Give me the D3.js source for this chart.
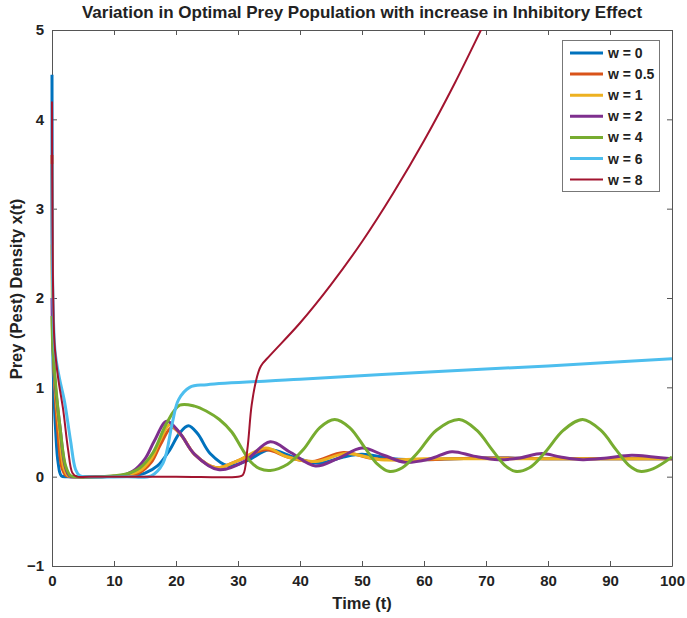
<!DOCTYPE html>
<html>
<head>
<meta charset="utf-8">
<script src="https://cdn.jsdelivr.net/npm/d3@7"></script>
<style>
  body { margin: 0; background: #fff; }
  text { font-family: "Liberation Sans", Arial, sans-serif; font-weight: bold; }
</style>
</head>
<body>
<div id="chart"></div>
<script>
// series: time points and prey density for each w
const tW0 = [0, 0.05, 0.2, 0.6, 1, 1.5, 2.5, 8, 13, 15, 17, 19, 20.5, 22, 23.5, 25.5, 28.5, 31.5, 35, 39, 43, 47, 50, 55, 60, 70, 80, 90, 100];
const xW0 = [4.5, 2.5, 1.2, 0.5, 0.15, 0.01, 0, 0, 0.01, 0.04, 0.12, 0.3, 0.48, 0.57, 0.48, 0.26, 0.12, 0.18, 0.3, 0.22, 0.15, 0.22, 0.25, 0.2, 0.19, 0.21, 0.2, 0.2, 0.2];

const tW05 = [0, 0.1, 0.4, 1, 1.6, 2.3, 3.5, 8, 12, 14, 16, 17.5, 19.3, 21, 23, 26.5, 30, 34.5, 38, 42, 47, 52, 60, 70, 80, 90, 100];
const xW05 = [3.6, 2.0, 1.1, 0.45, 0.1, 0.01, 0, 0, 0.01, 0.04, 0.16, 0.36, 0.55, 0.45, 0.25, 0.1, 0.18, 0.3, 0.22, 0.17, 0.27, 0.2, 0.19, 0.21, 0.2, 0.2, 0.2];

const tW1 = [0, 0.1, 0.4, 1.2, 1.9, 2.6, 3.8, 8, 11, 14, 16, 17.5, 19, 20.8, 23, 26.5, 30, 34.5, 38, 42.5, 47.5, 53, 60, 70, 80, 90, 100];
const xW1 = [2.6, 1.8, 1.1, 0.5, 0.1, 0.01, 0, 0, 0.01, 0.06, 0.2, 0.42, 0.58, 0.47, 0.25, 0.1, 0.18, 0.32, 0.22, 0.17, 0.26, 0.19, 0.2, 0.2, 0.2, 0.2, 0.2];

const tW2 = [0, 0.1, 0.5, 1.3, 2.1, 2.8, 4, 8, 11, 13, 15, 16.5, 18.5, 20.5, 23, 26.8, 31, 35.2, 38.5, 42.5, 46, 50, 53.5, 57, 61, 64.5, 68, 72, 75.5, 79, 82, 85.6, 89.5, 93.5, 97, 100];
const xW2 = [2.0, 1.6, 1.05, 0.55, 0.12, 0.01, 0, 0, 0.01, 0.06, 0.2, 0.4, 0.62, 0.5, 0.25, 0.08, 0.17, 0.39, 0.27, 0.12, 0.2, 0.32, 0.24, 0.16, 0.2, 0.28, 0.23, 0.19, 0.21, 0.26, 0.22, 0.19, 0.21, 0.24, 0.22, 0.2];

const tW4 = [0, 0.1, 0.5, 1.3, 2.2, 3, 4.2, 8, 10, 12, 14.2, 16.3, 18.5, 20.6, 23, 25, 27, 29, 30.5, 32, 33.5, 35.2, 38, 40.5, 43.2, 45.6, 48, 50.5, 52.5, 54.3, 56.5, 59, 62, 65.7, 68.5, 71, 73, 74.7, 77, 79.5, 82.5, 85.6, 88.5, 91, 93, 94.8, 97, 100];
const xW4 = [1.8, 1.5, 1.1, 0.55, 0.12, 0.01, 0, 0, 0.01, 0.03, 0.1, 0.27, 0.6, 0.8, 0.79, 0.73, 0.64, 0.5, 0.33, 0.17, 0.09, 0.07, 0.14, 0.3, 0.55, 0.64, 0.55, 0.32, 0.14, 0.06, 0.1, 0.27, 0.52, 0.64, 0.52, 0.3, 0.13, 0.06, 0.1, 0.27, 0.52, 0.64, 0.52, 0.3, 0.13, 0.06, 0.09, 0.22];

const tW6 = [0, 0.1, 0.5, 1.2, 2, 3, 3.8, 4.5, 6, 12, 16, 17.9, 19.4, 20.4, 22.2, 25, 40, 60, 80, 100];
const xW6 = [3.5, 2.2, 1.4, 1.1, 0.85, 0.4, 0.08, 0.01, 0, 0, 0.01, 0.15, 0.6, 0.86, 1.0, 1.03, 1.09, 1.17, 1.24, 1.32];

const tW8 = [0, 0.08, 0.4, 1, 1.8, 2.6, 3.3, 4, 6, 20, 30, 30.8, 31.5, 32.2, 33, 33.7, 35.2, 40, 45, 50, 55, 60, 65, 69.4, 72];
const xW8 = [4.2, 2.8, 1.5, 1.1, 0.75, 0.3, 0.04, 0, 0, 0, 0, 0.02, 0.3, 0.8, 1.1, 1.24, 1.36, 1.72, 2.15, 2.63, 3.17, 3.76, 4.41, 5.03, 5.4];

const labels = ["w = 0", "w = 0.5", "w = 1", "w = 2", "w = 4", "w = 6", "w = 8"];
const colors = ["#0072BD", "#D95319", "#EDB120", "#7E2F8E", "#77AC30", "#4DBEEE", "#A2142F"];
const times = [tW0, tW05, tW1, tW2, tW4, tW6, tW8];
const values = [xW0, xW05, xW1, xW2, xW4, xW6, xW8];

const xTicks = [0, 10, 20, 30, 40, 50, 60, 70, 80, 90, 100];
const yTicks = [-1, 0, 1, 2, 3, 4, 5];

const width = 687, height = 618;
const margin = {top: 30, right: 15, bottom: 52, left: 52};
const plotW = width - margin.left - margin.right;
const plotH = height - margin.top - margin.bottom;

const svg = d3.select("#chart").append("svg")
    .attr("width", width)
    .attr("height", height);

const x = d3.scaleLinear().domain([0, 100]).range([margin.left, margin.left + plotW]);
const y = d3.scaleLinear().domain([-1, 5]).range([margin.top + plotH, margin.top]);

svg.append("clipPath").attr("id", "plotclip")
    .append("rect")
    .attr("x", margin.left - 2).attr("y", margin.top)
    .attr("width", plotW + 2).attr("height", plotH);

// axes (MATLAB style box with inward ticks)
const axisColor = "#555";
const bottomAxis = svg.append("g")
    .attr("transform", `translate(0, ${margin.top + plotH})`)
    .call(d3.axisBottom(x).tickValues(xTicks).tickSize(-5).tickPadding(9).tickSizeOuter(0).tickFormat(d3.format("d")));
const leftAxis = svg.append("g")
    .attr("transform", `translate(${margin.left}, 0)`)
    .call(d3.axisLeft(y).tickValues(yTicks).tickSize(-5).tickPadding(8).tickSizeOuter(0).tickFormat(d3.format("d")));
const topAxis = svg.append("g")
    .attr("transform", `translate(0, ${margin.top})`)
    .call(d3.axisTop(x).tickValues(xTicks).tickSize(-5).tickFormat("").tickSizeOuter(0));
const rightAxis = svg.append("g")
    .attr("transform", `translate(${margin.left + plotW}, 0)`)
    .call(d3.axisRight(y).tickValues(yTicks).tickSize(-5).tickFormat("").tickSizeOuter(0));

[bottomAxis, leftAxis, topAxis, rightAxis].forEach(a => {
    a.selectAll("path, line").attr("stroke", axisColor);
    a.selectAll("text").attr("fill", "#222").attr("font-size", 15)
        .style("font-family", "'Liberation Sans', Arial, sans-serif").style("font-weight", "bold");
});

// lines (drawn over the axis so the spike at t=0 stays visible)
const line = d3.line()
    .x(d => x(d[0]))
    .y(d => y(d[1]))
    .curve(d3.curveCatmullRom.alpha(0.5));

const g = svg.append("g").attr("clip-path", "url(#plotclip)");
times.forEach((ts, i) => {
    const pts = ts.map((t, k) => [t, values[i][k]]);
    g.append("path")
        .datum(pts)
        .attr("d", line)
        .attr("fill", "none")
        .attr("stroke", colors[i])
        .attr("stroke-width", i === 6 ? 2 : 3)
        .attr("stroke-linejoin", "round");
});

// title and axis labels
svg.append("text")
    .attr("x", margin.left + plotW / 2)
    .attr("y", 18)
    .attr("text-anchor", "middle")
    .attr("font-size", 17)
    .attr("fill", "#222")
    .text("Variation in Optimal Prey Population with increase in Inhibitory Effect");

svg.append("text")
    .attr("x", margin.left + plotW / 2)
    .attr("y", 609)
    .attr("text-anchor", "middle")
    .attr("font-size", 16.5)
    .attr("fill", "#222")
    .text("Time (t)");

svg.append("text")
    .attr("transform", `translate(22, 289) rotate(-90)`)
    .attr("text-anchor", "middle")
    .attr("font-size", 16.5)
    .attr("fill", "#222")
    .text("Prey (Pest) Density x(t)");

// legend
const legend = svg.append("g");
legend.append("rect")
    .attr("x", 562.5).attr("y", 40.5)
    .attr("width", 97).attr("height", 151)
    .attr("fill", "#fff")
    .attr("stroke", "#777");

labels.forEach((lab, i) => {
    const ly = 53 + i * 21.1;
    legend.append("line")
        .attr("x1", 570).attr("x2", 603)
        .attr("y1", ly).attr("y2", ly)
        .attr("stroke", colors[i])
        .attr("stroke-width", i === 6 ? 2 : 3);
    legend.append("text")
        .attr("x", 608).attr("y", ly + 5)
        .attr("font-size", 14)
        .attr("fill", "#222")
        .text(lab);
});
</script>
</body>
</html>
